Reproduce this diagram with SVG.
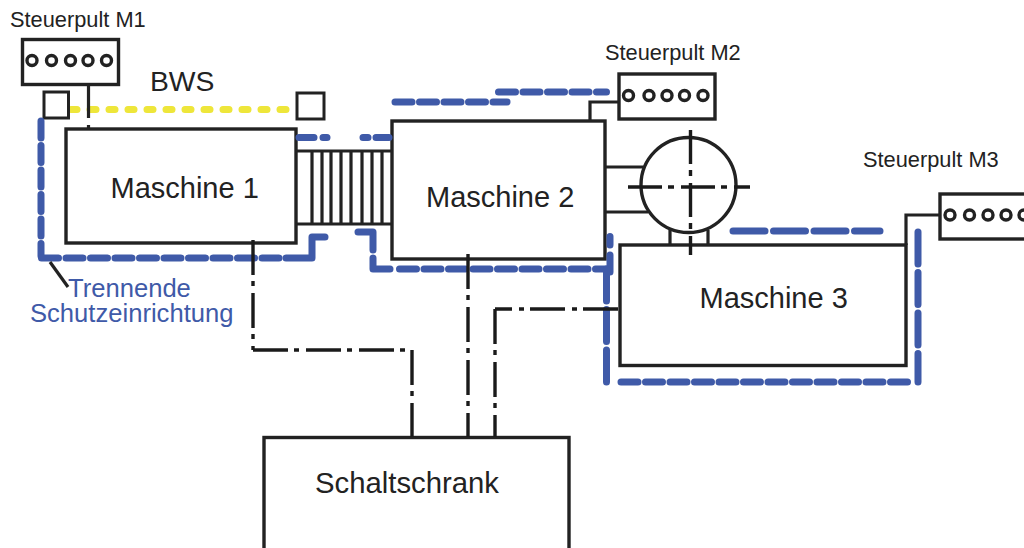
<svg xmlns="http://www.w3.org/2000/svg" width="1024" height="548" viewBox="0 0 1024 548">
<style>
text{font-family:"Liberation Sans",Arial,sans-serif;fill:#222}
.big{font-size:29px}
.sm{font-size:21.800px}
.box{fill:#fff;stroke:#222;stroke-width:3.4}
.ln{fill:none;stroke:#222;stroke-width:3.2}
.thin{fill:none;stroke:#222;stroke-width:3}
.dd{fill:none;stroke:#1a1a1a;stroke-width:3.4;stroke-dasharray:35 6 5 7}
.mc{fill:none;stroke:#1a1a1a;stroke-width:3.4;stroke-dasharray:34 6 6 7}
.bl{fill:none;stroke:#3f5aa8;stroke-width:7;stroke-linecap:round;stroke-linejoin:round;stroke-dasharray:17 7.500}
.blL{fill:none;stroke:#3f5aa8;stroke-width:7;stroke-linecap:round;stroke-linejoin:round;stroke-dasharray:32 8.500}
.blS{fill:none;stroke:#3f5aa8;stroke-width:7;stroke-linecap:round;stroke-linejoin:round}
.ye{fill:none;stroke:#eee63a;stroke-width:7;stroke-linecap:round;stroke-dasharray:6 13}
.k{fill:#fff;stroke:#222;stroke-width:3.4}
.lab{font-size:25.600px;fill:#3f5aa8}
</style>
<rect width="1024" height="548" fill="#fff"/>
<g id="conveyor">
<path class="ln" d="M296 151H392M296 224H392M312 151V224M322 151V224M331 151V224M341 151V224M351 151V224M362 151V224M372 151V224M382 151V224"/>
</g>
<g id="maschine-1"><rect class="box" x="66" y="129" width="230" height="114"/><text class="big" x="110.500" y="198">Maschine 1</text></g>
<g id="maschine-2"><rect class="box" x="392" y="121" width="213" height="138"/><text class="big" x="426" y="207">Maschine 2</text></g>
<g id="maschine-3"><rect class="box" x="620" y="245" width="286" height="120.500"/><text class="big" x="699.500" y="308">Maschine 3</text></g>
<g id="schaltschrank"><rect class="box" x="264" y="437.500" width="305" height="120"/><text class="big" x="315" y="493" style="font-size:29.300px">Schaltschrank</text></g>
<g id="motor">
<path class="ln" d="M605 167H643M605 212H648M670 230V245M708 230V245"/>
<circle cx="688.500" cy="185" r="47.500" fill="#fff" stroke="#222" stroke-width="3.400"/>
<path class="mc" d="M628 187H750"/>
<path class="mc" d="M690.500 130V255"/>
</g>
<g id="steuerpult-m1">
<rect class="box" x="22.500" y="39.500" width="96" height="45"/>
<circle class="k" cx="32" cy="60.500" r="5"/><circle class="k" cx="51.500" cy="60.500" r="5"/><circle class="k" cx="70.500" cy="60.500" r="5"/><circle class="k" cx="88" cy="60.500" r="5"/><circle class="k" cx="106.500" cy="60.500" r="5"/>
<text class="sm" x="10" y="27">Steuerpult M1</text>
</g>
<g id="steuerpult-m2">
<rect class="box" x="619" y="74" width="96" height="45"/>
<circle class="k" cx="628.500" cy="95.500" r="5"/><circle class="k" cx="649" cy="95.500" r="5"/><circle class="k" cx="667" cy="95.500" r="5"/><circle class="k" cx="684.500" cy="95.500" r="5"/><circle class="k" cx="703" cy="95.500" r="5"/>
<text class="sm" x="605" y="60">Steuerpult M2</text>
</g>
<g id="steuerpult-m3">
<rect class="box" x="940" y="194" width="96" height="45"/>
<circle class="k" cx="950" cy="215" r="5"/><circle class="k" cx="969.500" cy="215" r="5"/><circle class="k" cx="988" cy="215" r="5"/><circle class="k" cx="1006" cy="215" r="5"/><circle class="k" cx="1024" cy="215" r="5"/>
<text class="sm" x="863" y="167">Steuerpult M3</text>
</g>
<g id="bws">
<path class="ye" d="M71 109.500H295"/>
<rect class="thin" x="44" y="92" width="24.500" height="26"/>
<rect class="thin" x="297" y="93" width="27" height="26"/>
<text x="150" y="90.500" style="font-size:28.300px">BWS</text>
</g>
<g id="connectors">
<path class="ln" d="M88.500 84V118M88.500 125V129M619 102H590V120M940 215H906V245"/>
<path class="bl" d="M41 121V256"/>
<path class="bl" d="M41.500 258H282"/>
<path class="blS" d="M286 258H312V237H325"/>
<path class="blS" d="M299 137.500H314M323 137.500H327M389 137.500H376M368 137.500H363"/>
<path class="blS" d="M358 232H373V250"/>
<path class="blS" d="M373 258V269H390"/>
<path class="bl" d="M399.500 269H606"/>
<path class="blS" d="M610 236.500V245M610 255V272"/>
<path class="blL" d="M606.500 382V265"/>
<path class="bl" d="M395 102H507M498.500 92H606.500"/>
<path class="blL" d="M733 231H880"/>
<path class="blL" d="M918 232V382"/>
<path class="bl" d="M621 382H915"/>
<path class="dd" d="M253 240V350"/>
<path class="dd" d="M253 350H412"/>
<path class="dd" d="M412 350V437"/>
<path class="dd" d="M468 254V437"/>
<path class="dd" d="M618 309H495"/>
<path class="dd" d="M495 309V437"/>
<path class="ln" d="M50 262L68 287"/>
</g>
<g id="label-schutz">
<text class="lab" x="68" y="297">Trennende</text>
<text class="lab" x="30" y="322">Schutzeinrichtung</text>
</g>
</svg>
